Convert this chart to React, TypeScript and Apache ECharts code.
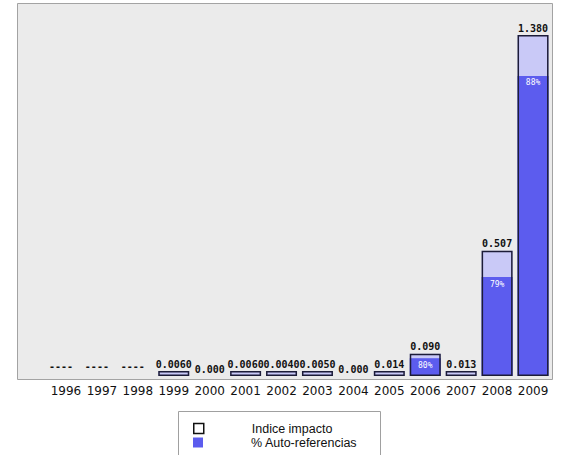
import { useEffect, useRef } from 'react';
import * as echarts from 'echarts';

const years = ['1996', '1997', '1998', '1999', '2000', '2001', '2002', '2003', '2004', '2005', '2006', '2007', '2008', '2009'];
const impactValues: (number | null)[] = [null, null, null, 0.006, 0, 0.006, 0.004, 0.005, 0, 0.014, 0.09, 0.013, 0.507, 1.38];
const impactLabels = ['----', '----', '----', '0.0060', '0.000', '0.0060', '0.0040', '0.0050', '0.000', '0.014', '0.090', '0.013', '0.507', '1.380'];
const selfCitePct: (number | null)[] = [null, null, null, null, null, null, null, null, null, null, 80, null, 79, 88];
const legendNames = ['Indice impacto', '% Auto-referencias'];

const LIGHT = '#c9c9f7';
const BLUE = '#5c5cee';
const EDGE = '#1c1c38';

const legendText = {
  fontFamily: 'Liberation Sans',
  fontSize: 12.5,
  lineHeight: 13,
  color: '#111',
  padding: [0, 0, 0, 43],
};

const valueLabel = {
  fontFamily: 'DejaVu Sans Mono',
  fontSize: 10,
  fontWeight: 'bold',
  color: '#111',
};

export default function App() {
  const ref = useRef<HTMLDivElement>(null);
  useEffect(() => {
    if (!ref.current) return;
    const chart = echarts.init(ref.current, undefined, { renderer: 'svg' });
    const barData = impactValues.map((v) => (v === null || v === 0 ? '-' : v));
    const blueData = impactValues.map((v, i) => {
      const p = selfCitePct[i];
      return v === null || p === null ? '-' : (v * p) / 100;
    });
    const emptyData = impactValues.map((v) => (v === null || v === 0 ? 0 : '-'));
    chart.setOption({
      animation: false,
      graphic: [
        {
          type: 'rect',
          z: -10,
          shape: { x: 17.5, y: 3.5, width: 535, height: 376 },
          style: { fill: '#ebebeb', stroke: '#a3a3a3', lineWidth: 1 },
        },
        {
          type: 'rect',
          z: -10,
          shape: { x: 178.5, y: 411.5, width: 202, height: 50 },
          style: { fill: '#ffffff', stroke: '#a0a0a0', lineWidth: 1 },
        },
      ],
      grid: { left: 48, right: 13, top: 35, bottom: 79 },
      xAxis: {
        type: 'category',
        data: years,
        axisLine: { show: false },
        axisTick: { show: false },
        splitLine: { show: false },
        axisLabel: {
          margin: 9,
          fontFamily: 'DejaVu Sans',
          fontSize: 12,
          color: '#111',
          interval: 0,
        },
      },
      yAxis: {
        type: 'value',
        min: 0,
        max: 1.38,
        show: false,
        splitLine: { show: false },
      },
      legend: [
        {
          left: 193,
          top: 422,
          padding: 0,
          selectedMode: false,
          itemWidth: 10,
          itemHeight: 10,
          textStyle: legendText,
          data: [
            { name: legendNames[0], icon: 'rect', itemStyle: { color: '#ffffff', borderColor: '#111', borderWidth: 1.5 } },
          ],
        },
        {
          left: 193,
          top: 436,
          padding: 0,
          selectedMode: false,
          itemWidth: 10,
          itemHeight: 10,
          textStyle: legendText,
          data: [{ name: legendNames[1], icon: 'rect', itemStyle: { color: BLUE, borderWidth: 0 } }],
        },
      ],
      series: [
        {
          name: legendNames[0],
          type: 'bar',
          barWidth: 31,
          barGap: '-100%',
          barMinHeight: 5,
          data: barData,
          itemStyle: { color: LIGHT },
          z: 2,
        },
        {
          name: legendNames[1],
          type: 'bar',
          barWidth: 31,
          barGap: '-100%',
          data: blueData,
          itemStyle: { color: BLUE },
          z: 3,
          label: {
            show: true,
            position: 'insideTop',
            distance: 3,
            fontFamily: 'DejaVu Sans Mono',
            fontSize: 8,
            color: '#ffffff',
            formatter: (p: any) => `${selfCitePct[p.dataIndex]}%`,
          },
        },
        {
          name: 'outline',
          type: 'bar',
          barWidth: 31,
          barGap: '-100%',
          barMinHeight: 5,
          data: barData,
          silent: true,
          itemStyle: { color: 'rgba(0,0,0,0)', borderColor: EDGE, borderWidth: 1.5 },
          z: 4,
          label: {
            show: true,
            position: 'top',
            distance: 2,
            ...valueLabel,
            formatter: (p: any) => impactLabels[p.dataIndex],
          },
        },
        {
          name: 'empty',
          type: 'scatter',
          symbolSize: 0,
          data: emptyData,
          silent: true,
          z: 5,
          itemStyle: { opacity: 1, color: '#111' },
          label: {
            show: true,
            position: 'top',
            distance: 2,
            ...valueLabel,
            opacity: 1,
            formatter: (p: any) => impactLabels[p.dataIndex],
          },
          labelLayout: (params: any) => {
            const i = params.dataIndex;
            if (impactValues[i] === null) {
              return { dx: -5, dy: -3 };
            }
            return {};
          },
        },
      ],
    });
    return () => chart.dispose();
  }, []);
  return (
    <div
      ref={ref}
      style={{ position: 'fixed', left: 0, top: 0, width: 564, height: 455, background: '#ffffff' }}
    />
  );
}
